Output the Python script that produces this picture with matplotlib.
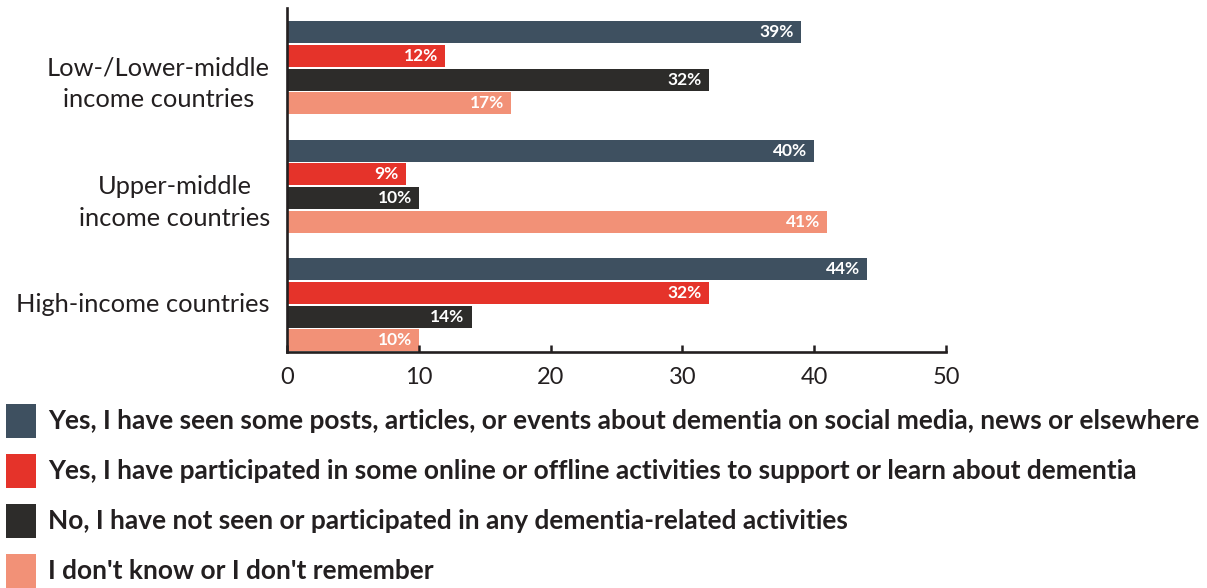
import matplotlib
matplotlib.use("Agg")
import matplotlib.pyplot as plt
from matplotlib.patches import Rectangle
import numpy as np

# data
groups = ["Low-/Lower-middle\nincome countries", "Upper-middle\nincome countries", "High-income countries"]
series = [
    "Yes, I have seen some posts, articles, or events about dementia on social media, news or elsewhere",
    "Yes, I have participated in some online or offline activities to support or learn about dementia",
    "No, I have not seen or participated in any dementia-related activities",
    "I don't know or I don't remember",
]
seen = [39, 40, 44]
participated = [12, 9, 32]
not_seen = [32, 10, 14]
dont_know = [17, 41, 10]
xticks = [0, 10, 20, 30, 40, 50]

colors = ["#3e5060", "#e5332a", "#2d2c2a", "#f29177"]
ink = "#231f20"

plt.rcParams['font.family'] = ['Lato', 'DejaVu Sans']

W, H = 1207, 588
fig = plt.figure(figsize=(W / 100, H / 100), dpi=100)
ax = fig.add_axes([287 / W, 1 - 352 / H, (946 - 287) / W, 344 / H])

values = [seen, participated, not_seen, dont_know]
centers = np.arange(len(groups)) * 5.0
offsets = [-1.5, -0.5, 0.5, 1.5]

for vals, col, off in zip(values, colors, offsets):
    bars = ax.barh(centers + off, vals, height=0.93, color=col)
    for b, v in zip(bars, vals):
        ax.annotate(f"{v}%", (v, b.get_y() + b.get_height() / 2),
                    xytext=(-5, 0), textcoords="offset points",
                    ha="right", va="center", color="white",
                    fontsize=12.5, fontweight="bold")

ax.set_xlim(0, 50)
ax.set_ylim(11.99, -2.52)
ax.set_xticks(xticks)
ax.set_xticklabels([str(t) for t in xticks])
ax.set_yticks([])
ax.tick_params(axis="x", direction="in", length=5, width=1.8, color=ink,
               labelsize=17, labelcolor=ink, pad=11)
for s in ["top", "right"]:
    ax.spines[s].set_visible(False)
for s in ["left", "bottom"]:
    ax.spines[s].set_linewidth(1.9)
    ax.spines[s].set_color(ink)

# group labels (first line sits on the group centre)
for c, g in zip(centers, groups):
    n = g.count("\n")
    ax.text(-17 / 659, c + n * 0.68, g, transform=ax.get_yaxis_transform(),
            ha="right", va="center", multialignment="center",
            fontsize=18.3, color=ink, linespacing=1.45)

# legend drawn by hand
for i, (lab, col) in enumerate(zip(series, colors)):
    yc = 421 + i * 50
    fig.add_artist(Rectangle((6 / W, 1 - (yc + 17) / H), 30 / W, 34 / H,
                             transform=fig.transFigure, color=col, lw=0))
    fig.text(48 / W, 1 - yc / H, lab, ha="left", va="center",
             fontsize=18.9, fontweight="bold", color=ink)

fig.savefig("out.png", dpi=100)
